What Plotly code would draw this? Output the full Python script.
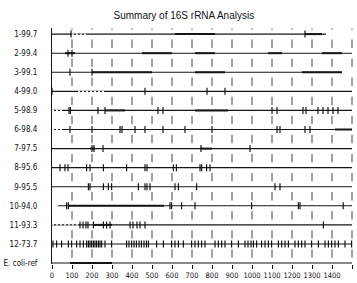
import plotly.graph_objects as go

row_labels = ["1-99.7", "2-99.4", "3-99.1", "4-99.0", "5-98.9", "6-98.4", "7-97.5",
              "8-95.6", "9-95.5", "10-94.0", "11-93.3", "12-73.7", "E. coli-ref"]
row_start = [0, 0, 0, 0, 0, 0, 0, 0, 0, 30, 0, 0, 0]
row_end = [1370, 1500, 1450, 1500, 1500, 1500, 1500, 1500, 1500, 1500, 1500, 1500, 1500]
row_marks = [
    [95, 1265],
    [80, 100],
    [90, 200],
    [0, 465, 775, 865],
    [85, 92, 230, 265, 530, 555, 1100, 1125, 1255, 1270, 1330, 1355, 1380, 1405, 1430],
    [90, 200, 340, 350, 415, 465, 555, 665, 800, 1125, 1140, 1265, 1290],
    [200, 210, 255, 745, 990],
    [40, 65, 80, 173, 190, 257, 373, 465, 475, 607, 622, 740, 748, 773, 790],
    [182, 190, 257, 282, 298, 432, 465, 475, 490, 615, 632, 723, 1115, 1140],
    [73, 82, 590, 598, 648, 715, 998, 1232, 1240, 1456],
    [140, 155, 170, 180, 207, 257, 273, 290, 390, 405, 425, 440, 465, 1357],
    [5, 23, 48, 82, 98, 123, 140, 157, 173, 182, 190, 198, 207, 215, 223, 232, 240, 248,
     265, 298, 373, 385, 398, 410, 422, 435, 447, 460, 472, 482, 523, 557, 598, 615, 632,
     657, 698, 715, 732, 748, 765, 815, 832, 848, 865, 898, 932, 965, 980, 995, 1007,
     1023, 1048, 1065, 1082, 1098, 1132, 1148, 1165, 1182, 1215, 1232, 1248, 1265, 1298,
     1332, 1365, 1382, 1398, 1415, 1432, 1465, 1498],
    [],
]
row_thick = [
    [(615, 815), (1265, 1350)],
    [(65, 115), (450, 600), (715, 815), (1080, 1150), (1350, 1450)],
    [(200, 500), (715, 865), (1250, 1450)],
    [],
    [(265, 365), (715, 880)],
    [(1415, 1500)],
    [(190, 215), (740, 800)],
    [],
    [],
    [(82, 560)],
    [(207, 300)],
    [],
    [(90, 300)],
]
row_dotted = [
    [(100, 170)], [], [], [(130, 265)], [(0, 60)], [(0, 60)], [], [], [], [(0, 30)],
    [(0, 130)], [], [],
]
x_ticks = [0, 100, 200, 300, 400, 500, 600, 700, 800, 900, 1000, 1100, 1200, 1300, 1400, 1500]

ink = "#151515"
fig = go.Figure()

# broken vertical guides between rows at every 100 bases
gx, gy = [], []
for gap in range(len(row_labels) - 1):
    for t in x_ticks[1:]:
        gx.append(t)
        gy.append(gap + 0.5)
fig.add_trace(go.Scatter(x=gx, y=gy, mode="markers", hoverinfo="skip",
                         marker=dict(symbol="line-ns", size=6, line=dict(width=1, color="#444"))))
# faint dots above the first row
fig.add_trace(go.Scatter(x=x_ticks[1:], y=[-0.28] * (len(x_ticks) - 1), mode="markers",
                         hoverinfo="skip",
                         marker=dict(symbol="line-ns", size=2, line=dict(width=1, color="#888"))))

for i, lab in enumerate(row_labels):
    fig.add_trace(go.Scatter(x=[row_start[i], row_end[i]], y=[i, i], mode="lines",
                             line=dict(color=ink, width=1.1), hoverinfo="skip"))
    for a, b in row_thick[i]:
        fig.add_trace(go.Scatter(x=[a, b], y=[i, i], mode="lines",
                                 line=dict(color=ink, width=2), hoverinfo="skip"))
    for a, b in row_dotted[i]:
        fig.add_trace(go.Scatter(x=[a, b], y=[i, i], mode="lines",
                                 line=dict(color="white", width=1.4, dash="2px,2px"),
                                 hoverinfo="skip"))
    if row_marks[i]:
        fig.add_trace(go.Scatter(x=row_marks[i], y=[i] * len(row_marks[i]), mode="markers",
                                 hoverinfo="skip",
                                 marker=dict(symbol="line-ns", size=5,
                                             line=dict(width=1.2, color=ink))))

lab_font = dict(family="DejaVu Sans Condensed, Liberation Sans Narrow, Arial, sans-serif",
                size=8, color="#111")
x_font = dict(family="Liberation Sans Narrow, DejaVu Sans Condensed, Arial, sans-serif",
              size=7.5, color="#111")

fig.update_layout(
    width=357, height=283,
    margin=dict(l=52, r=3, t=28, b=19),
    paper_bgcolor="white", plot_bgcolor="white",
    showlegend=False,
    title=dict(text="Summary of 16S rRNA Analysis", x=0.515, xref="container",
               xanchor="center", y=1 - 15 / 283, yref="container", yanchor="middle",
               font=dict(family="Liberation Sans, Arial, sans-serif", size=10, color="#111")),
    xaxis=dict(range=[0, 1510], tickvals=x_ticks, ticktext=[str(v) for v in x_ticks],
               tickangle=0, showgrid=False, zeroline=False, showline=False, ticks="outside",
               ticklen=4, tickwidth=1, tickcolor=ink, tickfont=x_font),
    yaxis=dict(range=[12.05, -0.32], tickvals=list(range(len(row_labels))),
               ticktext=row_labels, showgrid=False, zeroline=False, showline=True,
               linecolor=ink, linewidth=1, ticks="", ticklabelstandoff=12,
               tickfont=lab_font),
)

fig.write_html("out.html", config={"displayModeBar": False},
               post_script="document.body.style.margin='0';")
